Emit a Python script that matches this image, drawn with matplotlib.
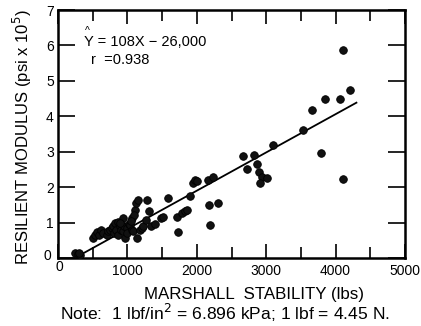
import numpy as np
import matplotlib
matplotlib.use('Agg')
import matplotlib.pyplot as plt

plt.rcParams['font.family'] = ['Liberation Sans', 'DejaVu Sans']

# Marshall stability (lbs) and resilient modulus (psi x 10^5)
stability = [250, 290, 320, 300,
             509, 533, 560, 595, 620, 653, 701, 720, 749, 780, 797, 800,
             821, 840, 869, 869, 893, 910, 941, 941, 955, 965, 989, 1000,
             1020, 1037, 1062, 1061, 1085, 1109, 1130, 1134, 1157, 1100,
             1181, 1205, 1229, 1277, 1270, 1311, 1340, 1398, 1490, 1508,
             1590, 1710, 1734, 1782, 1830, 1860, 1902, 1940, 1974, 2000,
             2166, 2181, 2190, 2238, 2310, 2671, 2719, 2824, 2863, 2901,
             2935, 2911, 3007, 3103, 3525, 3665, 3785, 3847, 4063, 4111,
             4111, 4207, 900, 1050]
modulus = [0.14, 0.10, 0.09, 0.15,
           0.56, 0.66, 0.72, 0.66, 0.80, 0.70, 0.66, 0.75, 0.80, 0.85, 0.89, 0.70,
           0.99, 0.78, 1.03, 0.66, 0.89, 0.80, 1.13, 0.75, 0.90, 0.56, 0.85, 0.70,
           0.95, 0.94, 1.13, 0.80, 0.75, 1.36, 1.55, 0.56, 1.64, 1.20,
           0.80, 0.85, 0.89, 1.64, 1.08, 1.33, 0.89, 0.97, 1.12, 1.17,
           1.69, 1.17, 0.72, 1.27, 1.34, 1.35, 1.74, 2.13, 2.21, 2.18,
           2.21, 1.50, 0.94, 2.28, 1.55, 2.87, 2.51, 2.91, 2.66, 2.44,
           2.30, 2.11, 2.26, 3.20, 3.62, 4.18, 2.97, 4.49, 4.48, 5.86,
           2.23, 4.73, 1.00, 1.05]

# fitted line Y = 108X - 26,000 (psi), drawn between these stabilities
fit_x = np.array([300, 4300])
fit_y = (108 * fit_x - 26000) / 1e5

xticks = [0, 1000, 2000, 3000, 4000, 5000]
yticks = [0, 1, 2, 3, 4, 5, 6, 7]

W, H = 421, 326
fig = plt.figure(figsize=(W / 100, H / 100), dpi=100)
ax = fig.add_axes([58 / W, (H - 258) / H, 347 / W, 248 / H])

ax.plot(fit_x, fit_y, color='black', lw=1.3, zorder=2)
ax.scatter(stability, modulus, s=30, color='#111111', edgecolors='black',
           linewidths=0.6, zorder=3)

ax.set_xlim(0, 5000)
ax.set_ylim(0, 7)
for sp in ax.spines.values():
    sp.set_linewidth(1.8)

ax.set_xticks(xticks)
ax.set_xticklabels(['', '1000', '2000', '3000', '4000', '5000'])
ax.set_yticks(yticks)
ax.set_yticklabels(['', '1', '2', '3', '4', '5', '6', '7'])
ax.set_xticks(np.arange(500, 5000, 1000), minor=True)
ax.tick_params(axis='both', which='major', direction='in', length=10, width=1.2,
               labelsize=10, top=True, right=True, pad=4)
ax.tick_params(axis='x', which='minor', direction='in', length=8, width=1.2,
               top=True)
ax.tick_params(axis='y', which='major', length=12, pad=3)

# the two zeros at the corner
ax.text(-150, 0.05, '0', fontsize=10, ha='center', va='center')
ax.text(20, -0.25, '0', fontsize=10, ha='center', va='center')

ax.text(380, 6.1, 'Y = 108X \u2212 26,000', fontsize=10.5, va='center')
ax.text(385, 6.42, '^', fontsize=7.5, va='center')
ax.text(470, 5.6, 'r  =0.938', fontsize=10.5, va='center', ha='left')

fig.text(22 / W, 1 - 137 / H, r'RESILIENT MODULUS (psi x 10$^5$)', rotation=90,
         fontsize=12, ha='center', va='center')
fig.text(254 / W, 1 - 295 / H, 'MARSHALL  STABILITY (lbs)', fontsize=12.2,
         ha='center', va='center')
fig.text(225 / W, 1 - 313 / H, r'Note:  1 lbf/in$^2$ = 6.896 kPa; 1 lbf = 4.45 N.',
         fontsize=12.6, ha='center', va='center')

fig.savefig('out.png', dpi=100)
